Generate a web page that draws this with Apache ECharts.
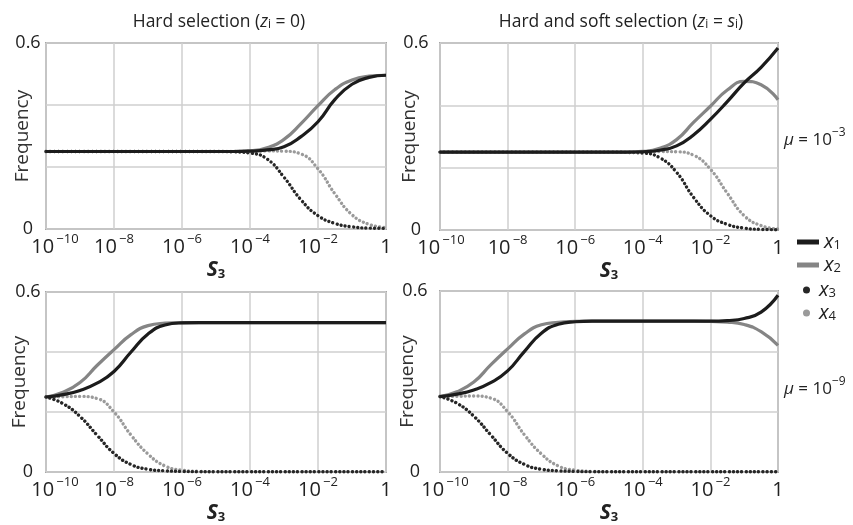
<!DOCTYPE html>
<html>
<head>
<meta charset="utf-8">
<script src="https://cdn.jsdelivr.net/npm/echarts@6/dist/echarts.min.js"></script>
<style>
html,body{margin:0;padding:0;background:#fff;}
#chart{width:853px;height:525px;}
</style>
</head>
<body>
<div id="chart"></div>
<script>
// log10(S3) sample positions
var exps = [-10,-9.5,-9,-8.5,-8,-7.5,-7,-6.5,-6,-5.5,-5,-4.5,-4,-3.5,-3,-2.5,-2,-1.5,-1,-0.5,0];
var xTickExps = [-10,-8,-6,-4,-2,0];
var yTickLabels = ['0','0.6'];
var panelTitles = ['Hard selection', 'Hard and soft selection'];
var muLabels = ['\u22123', '\u22129'];
var seriesNames = ['x1','x2','x3','x4'];

// Top-left: hard selection, mu = 1e-3
var tl_x1 = [0.25,0.25,0.25,0.25,0.25,0.25,0.25,0.25,0.25,0.25,0.25,0.25,0.251,0.255,0.265,0.298,0.346,0.418,0.467,0.489,0.496];
var tl_x2 = [0.25,0.25,0.25,0.25,0.25,0.25,0.25,0.25,0.25,0.25,0.25,0.25,0.252,0.262,0.289,0.340,0.398,0.450,0.481,0.493,0.496];
var tl_x3 = [0.25,0.25,0.25,0.25,0.25,0.25,0.25,0.25,0.25,0.25,0.25,0.249,0.245,0.226,0.167,0.094,0.043,0.018,0.007,0.003,0.002];
var tl_x4 = [0.25,0.25,0.25,0.25,0.25,0.25,0.25,0.25,0.25,0.25,0.25,0.25,0.251,0.252,0.251,0.242,0.194,0.113,0.046,0.015,0.005];
// Top-right: hard and soft selection, mu = 1e-3
var tr_x1 = [0.25,0.25,0.25,0.25,0.25,0.25,0.25,0.25,0.25,0.25,0.25,0.25,0.251,0.256,0.270,0.305,0.355,0.412,0.472,0.522,0.584];
var tr_x2 = [0.25,0.25,0.25,0.25,0.25,0.25,0.25,0.25,0.25,0.25,0.25,0.25,0.252,0.262,0.290,0.345,0.397,0.449,0.477,0.466,0.418];
var tr_x3 = [0.25,0.25,0.25,0.25,0.25,0.25,0.25,0.25,0.25,0.25,0.25,0.249,0.247,0.232,0.185,0.105,0.046,0.018,0.006,0.002,0.001];
var tr_x4 = [0.25,0.25,0.25,0.25,0.25,0.25,0.25,0.25,0.25,0.25,0.25,0.25,0.251,0.252,0.251,0.240,0.195,0.118,0.046,0.014,0.003];
// Bottom-left: hard selection, mu = 1e-9
var bl_x1 = [0.25,0.258,0.272,0.296,0.335,0.400,0.460,0.490,0.497,0.498,0.498,0.498,0.498,0.498,0.498,0.498,0.498,0.498,0.498,0.498,0.498];
var bl_x2 = [0.25,0.266,0.298,0.355,0.408,0.458,0.488,0.496,0.498,0.498,0.498,0.498,0.498,0.498,0.498,0.498,0.498,0.498,0.498,0.498,0.498];
var bl_x3 = [0.25,0.228,0.185,0.123,0.062,0.025,0.009,0.004,0.002,0.001,0.001,0.001,0.001,0.001,0.001,0.001,0.001,0.001,0.001,0.001,0.001];
var bl_x4 = [0.25,0.251,0.252,0.245,0.200,0.123,0.060,0.020,0.006,0.002,0.001,0.001,0.001,0.001,0.001,0.001,0.001,0.001,0.001,0.001,0.001];
// Bottom-right: hard and soft selection, mu = 1e-9
var br_x1 = [0.25,0.258,0.272,0.296,0.335,0.400,0.460,0.490,0.498,0.500,0.500,0.500,0.500,0.500,0.500,0.500,0.500,0.502,0.509,0.530,0.586];
var br_x2 = [0.25,0.266,0.298,0.355,0.408,0.458,0.488,0.496,0.499,0.500,0.500,0.500,0.500,0.500,0.500,0.500,0.499,0.497,0.489,0.465,0.420];
var br_x3 = [0.25,0.228,0.185,0.123,0.062,0.025,0.009,0.004,0.002,0.001,0.001,0.001,0.001,0.001,0.001,0.001,0.001,0.001,0.001,0.001,0.001];
var br_x4 = [0.25,0.251,0.252,0.245,0.200,0.123,0.060,0.020,0.006,0.002,0.001,0.001,0.001,0.001,0.001,0.001,0.001,0.001,0.001,0.001,0.001];

var panels = [
  [tl_x1, tl_x2, tl_x3, tl_x4],
  [tr_x1, tr_x2, tr_x3, tr_x4],
  [bl_x1, bl_x2, bl_x3, bl_x4],
  [br_x1, br_x2, br_x3, br_x4]
];

var FONT = '"Open Sans", "Noto Sans", sans-serif';
var colors = ['#1c1c1c', '#858585', '#262626', '#9a9a9a'];

var grids = [
  {left: 46, top: 43, width: 340, height: 186},
  {left: 440, top: 43, width: 338, height: 187},
  {left: 46, top: 292, width: 340, height: 188},
  {left: 440, top: 291, width: 338, height: 189}
];
var yNameGaps = [14, 21, 17, 23];
var yLabelMargins = [18, 24, 18, 25];
var firstLabelPad = [18, 2, 18, 10];

function pair(xs, ys) { return xs.map(function (x, i) { return [x, ys[i]]; }); }

var xAxes = [], yAxes = [], series = [];
grids.forEach(function (g, gi) {
  g.show = true;
  g.borderColor = '#a6a6a6';
  g.borderWidth = 2;
  g.backgroundColor = 'rgba(0,0,0,0)';
  xAxes.push({
    type: 'value', gridIndex: gi, min: -10, max: 0, interval: 2,
    axisLine: {show: false}, axisTick: {show: false},
    splitLine: {show: true, lineStyle: {color: '#cfcfcf', width: 1.5}},
    axisLabel: {
      margin: 4,
      formatter: function (v) {
        if (xTickExps.indexOf(v) < 0) return '';
        if (v === 0) return '{b|1}';
        var base = (v === xTickExps[0]) ? 'bf' : 'b';
        return '{' + base + '|10}{sup|\u2009\u2212' + Math.abs(v) + '}';
      },
      rich: {
        b: {fontFamily: FONT, fontSize: 20, fontWeight: 'normal', color: '#222', lineHeight: 24, verticalAlign: 'bottom'},
        bf: {fontFamily: FONT, fontSize: 20, fontWeight: 'normal', color: '#222', lineHeight: 24, verticalAlign: 'bottom',
             padding: [0, 0, 0, firstLabelPad[gi]]},
        sup: {fontFamily: FONT, fontSize: 13, fontWeight: 'normal', color: '#222', lineHeight: 14, verticalAlign: 'top'}
      }
    },
    name: '{s|S}{sub|3}', nameLocation: 'middle', nameGap: 30,
    nameTextStyle: {
      rich: {
        s: {fontFamily: FONT, fontSize: 21, fontWeight: 'bold', fontStyle: 'italic', color: '#222', lineHeight: 22, verticalAlign: 'bottom'},
        sub: {fontFamily: FONT, fontSize: 13, fontWeight: 'bold', color: '#222', lineHeight: 12, verticalAlign: 'bottom'}
      }
    }
  });
  yAxes.push({
    type: 'value', gridIndex: gi, min: 0, max: 0.6, interval: 0.2,
    axisLine: {show: false}, axisTick: {show: false},
    splitLine: {show: true, lineStyle: {color: '#cfcfcf', width: 1.5}},
    axisLabel: {
      margin: yLabelMargins[gi], align: 'center',
      fontFamily: FONT, fontSize: 18, color: '#222',
      formatter: function (v) {
        if (Math.abs(v) < 1e-9) return yTickLabels[0];
        if (Math.abs(v - 0.6) < 1e-9) return yTickLabels[1];
        return '';
      }
    },
    name: 'Frequency', nameLocation: 'middle', nameGap: yNameGaps[gi],
    nameMoveOverlap: false,
    nameTextStyle: {fontFamily: FONT, fontSize: 19, color: '#333'}
  });
  panels[gi].forEach(function (vals, si) {
    var dotted = si >= 2;
    series.push({
      name: seriesNames[si], type: 'line', xAxisIndex: gi, yAxisIndex: gi,
      data: pair(exps, vals),
      smooth: 0.5,
      showSymbol: false, symbol: 'none',
      itemStyle: {color: colors[si]},
      lineStyle: dotted
        ? {color: colors[si], width: 3.4, type: [0.01, 4.2], cap: 'round'}
        : {color: colors[si], width: 3.2},
      z: [4, 3, 2, 1][si],
      animation: false
    });
  });
});

function legendFor(name, top, left, icon, w, h) {
  return {
    data: [name], top: top, left: left, icon: icon, itemWidth: w, itemHeight: h,
    padding: 0, itemGap: 0, selectedMode: false,
    itemStyle: {borderWidth: 0},
    formatter: function (n) { return '{i|x}{s|' + n.slice(1) + '}'; },
    textStyle: {
      rich: {
        i: {fontFamily: FONT, fontSize: 20, fontStyle: 'italic', color: '#222', lineHeight: 20, verticalAlign: 'bottom'},
        s: {fontFamily: FONT, fontSize: 13, color: '#222', lineHeight: 12, verticalAlign: 'bottom'}
      }
    }
  };
}

var legends = [
  legendFor('x1', 232, 797, 'rect', 22, 5),
  legendFor('x2', 255, 797, 'rect', 22, 5),
  legendFor('x3', 280, 803, 'circle', 15, 7),
  legendFor('x4', 303, 803, 'circle', 15, 7)
];

var titleRich = {
  t: {fontFamily: FONT, fontSize: 17.5, fontWeight: 'normal', color: '#222', lineHeight: 22, verticalAlign: 'bottom'},
  it: {fontFamily: FONT, fontSize: 17.5, fontWeight: 'normal', fontStyle: 'italic', color: '#222', lineHeight: 22, verticalAlign: 'bottom'},
  sub: {fontFamily: FONT, fontSize: 12, fontWeight: 'normal', color: '#222', lineHeight: 12, verticalAlign: 'bottom'}
};
var muRich = {
  t: {fontFamily: FONT, fontSize: 17, fontWeight: 'normal', color: '#222', lineHeight: 22, verticalAlign: 'bottom'},
  it: {fontFamily: FONT, fontSize: 17, fontWeight: 'normal', fontStyle: 'italic', color: '#222', lineHeight: 22, verticalAlign: 'bottom'},
  sup: {fontFamily: FONT, fontSize: 12, fontWeight: 'normal', color: '#222', lineHeight: 12, verticalAlign: 'top'}
};

var titles = [
  {text: '{t|' + panelTitles[0] + ' (}{it|z}{sub|i}{t| = 0)}', left: 214, top: 4, textAlign: 'center',
   textStyle: {fontWeight: 'normal', rich: titleRich}},
  {text: '{t|' + panelTitles[1] + ' (}{it|z}{sub|i}{t| = }{it|s}{sub|i}{t|)}', left: 616, top: 4, textAlign: 'center',
   textStyle: {fontWeight: 'normal', rich: titleRich}},
  {text: '{it|\u03bc}{t| = 10}{sup|' + muLabels[0] + '}', left: 779, top: 122, textStyle: {fontWeight: 'normal', rich: muRich}},
  {text: '{it|\u03bc}{t| = 10}{sup|' + muLabels[1] + '}', left: 779, top: 371, textStyle: {fontWeight: 'normal', rich: muRich}}
];

var chart = echarts.init(document.getElementById('chart'), null, {renderer: 'canvas'});
chart.setOption({
  backgroundColor: '#ffffff',
  animation: false,
  title: titles,
  legend: legends,
  grid: grids,
  xAxis: xAxes,
  yAxis: yAxes,
  series: series
});
</script>
</body>
</html>
